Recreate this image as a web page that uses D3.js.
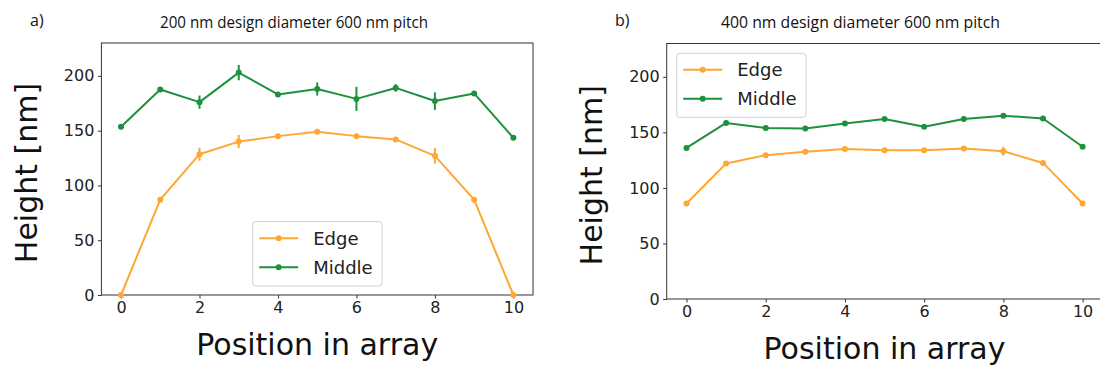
<!DOCTYPE html>
<html>
<head>
<meta charset="utf-8">
<script src="https://cdn.jsdelivr.net/npm/d3@7"></script>
<style>
html,body{margin:0;padding:0;background:#fff;}
svg{display:block;}
</style>
</head>
<body>
<svg id="chart" width="1100" height="367"></svg>
<script>
// ---- data ----
const positions = [0, 1, 2, 3, 4, 5, 6, 7, 8, 9, 10];
const xTicks = [0, 2, 4, 6, 8, 10];
const yTicks = [0, 50, 100, 150, 200];
const seriesNames = ["Edge", "Middle"];

const edgeA    = [0, 87, 128.5, 140, 145, 149, 145, 142, 127, 87, 0];
const edgeAErr = [0, 2, 6, 6, 2, 2, 2, 2, 7, 2, 0];
const midA     = [153.5, 187.5, 176, 203, 183, 188, 179, 189, 177, 184, 143.5];
const midAErr  = [2, 2, 6, 7, 2, 6, 11, 3.5, 8, 2, 2];

const edgeB    = [86, 122, 129.5, 132.5, 135, 134, 134, 135.5, 133, 122.5, 86];
const edgeBErr = [1, 2, 2, 2, 1.5, 1.5, 1.5, 2, 4, 1.5, 1];
const midB     = [136, 158.5, 154, 153.5, 158, 162, 155, 162, 165, 162.5, 137];
const midBErr  = [1.5, 2, 2, 2, 2, 1.5, 2, 2, 1.5, 1.5, 1.5];

const titles = ["200 nm design diameter 600 nm pitch", "400 nm design diameter 600 nm pitch"];
const panelTags = ["a)", "b)"];

const colors = {Edge: "#ffa733", Middle: "#1e913f"};

const svg = d3.select("#chart");

const panels = [
  {tag: panelTags[0], title: titles[0], edge: edgeA, edgeErr: edgeAErr, mid: midA, midErr: midAErr,
   left: 101.4, right: 533, top: 43, bottom: 295,
   titleX: 160, titleW: 268, tagX: 30, ylabX: 37, xlabY: 355,
   legend: {x: 252.7, y: 221.7, w: 129.3, h: 64.3}},
  {tag: panelTags[1], title: titles[1], edge: edgeB, edgeErr: edgeBErr, mid: midB, midErr: midBErr,
   left: 666.7, right: 1102.4, top: 43.5, bottom: 299, 
   titleX: 721, titleW: 279, tagX: 615, ylabX: 602, xlabY: 359,
   legend: {x: 676.7, y: 53.3, w: 129.3, h: 64}}
];

panels.forEach(p => {
  const x = d3.scaleLinear().domain([-0.5, 10.5]).range([p.left, p.right]);
  const y = d3.scaleLinear().domain([0, 230]).range([p.bottom, p.top]);
  const g = svg.append("g");

  // tag and title
  g.append("text").attr("x", p.tagX).attr("y", 26)
    .attr("font-family", "Open Sans, sans-serif").attr("font-size", 16).attr("fill", "#111")
    .text(p.tag);
  g.append("text").attr("x", p.titleX).attr("y", 28)
    .attr("font-family", "Open Sans, sans-serif").attr("font-size", 17).attr("fill", "#111")
    .attr("textLength", p.titleW).attr("lengthAdjust", "spacingAndGlyphs")
    .text(p.title);

  // axes
  const xAxis = d3.axisBottom(x).tickValues(xTicks).tickSize(3.5).tickPadding(3.5).tickFormat(d3.format("d"));
  const yAxis = d3.axisLeft(y).tickValues(yTicks).tickSize(3.5).tickPadding(3.5).tickFormat(d3.format("d"));

  const gx = g.append("g").attr("transform", `translate(0,${p.bottom})`).call(xAxis);
  const gy = g.append("g").attr("transform", `translate(${p.left},0)`).call(yAxis);
  [gx, gy].forEach(a => {
    a.select(".domain").remove();
    a.selectAll(".tick line").attr("stroke", "#333").attr("stroke-width", 1);
    a.selectAll(".tick text").attr("font-family", "DejaVu Sans, sans-serif").attr("font-size", 16).attr("fill", "#222");
  });

  // frame
  g.append("rect").attr("x", p.left).attr("y", p.top)
    .attr("width", p.right - p.left).attr("height", p.bottom - p.top)
    .attr("fill", "none").attr("stroke", "#333").attr("stroke-width", 1);

  // series
  const series = [
    {name: seriesNames[0], vals: p.edge, errs: p.edgeErr},
    {name: seriesNames[1], vals: p.mid, errs: p.midErr}
  ];
  const line = d3.line().x(d => x(d.x)).y(d => y(d.v));
  series.forEach(s => {
    const pts = positions.map((px, i) => ({x: px, v: s.vals[i], e: s.errs[i]}));
    const c = colors[s.name];
    g.append("path").datum(pts).attr("d", line)
      .attr("fill", "none").attr("stroke", c).attr("stroke-width", 2).attr("stroke-linejoin", "round");
    g.selectAll(null).data(pts).enter().append("line")
      .attr("x1", d => x(d.x)).attr("x2", d => x(d.x))
      .attr("y1", d => y(d.v - d.e)).attr("y2", d => y(d.v + d.e))
      .attr("stroke", c).attr("stroke-width", 2);
    g.selectAll(null).data(pts).enter().append("circle")
      .attr("cx", d => x(d.x)).attr("cy", d => y(d.v)).attr("r", 3).attr("fill", c);
  });

  // axis labels
  g.append("text").attr("transform", `translate(${p.ylabX},${(p.top + p.bottom) / 2 + 4}) rotate(-90)`)
    .attr("text-anchor", "middle").attr("font-family", "DejaVu Sans, sans-serif").attr("font-size", 30).attr("fill", "#111")
    .text("Height [nm]");
  g.append("text").attr("x", (p.left + p.right) / 2).attr("y", p.xlabY)
    .attr("text-anchor", "middle").attr("font-family", "DejaVu Sans, sans-serif").attr("font-size", 30).attr("fill", "#111")
    .text("Position in array");

  // legend
  const L = p.legend;
  const lg = g.append("g");
  lg.append("rect").attr("x", L.x).attr("y", L.y).attr("width", L.w).attr("height", L.h)
    .attr("rx", 3).attr("fill", "#fff").attr("fill-opacity", 0.8).attr("stroke", "#d0d0d0").attr("stroke-width", 1);
  seriesNames.forEach((n, i) => {
    const cy = L.y + 16.5 + i * 29;
    lg.append("line").attr("x1", L.x + 6.5).attr("x2", L.x + 45.5).attr("y1", cy).attr("y2", cy)
      .attr("stroke", colors[n]).attr("stroke-width", 2);
    lg.append("circle").attr("cx", L.x + 26).attr("cy", cy).attr("r", 3).attr("fill", colors[n]);
    lg.append("text").attr("x", L.x + 60.5).attr("y", cy + 6.5)
      .attr("font-family", "DejaVu Sans, sans-serif").attr("font-size", 18).attr("fill", "#222").text(n);
  });
});
</script>
</body>
</html>
